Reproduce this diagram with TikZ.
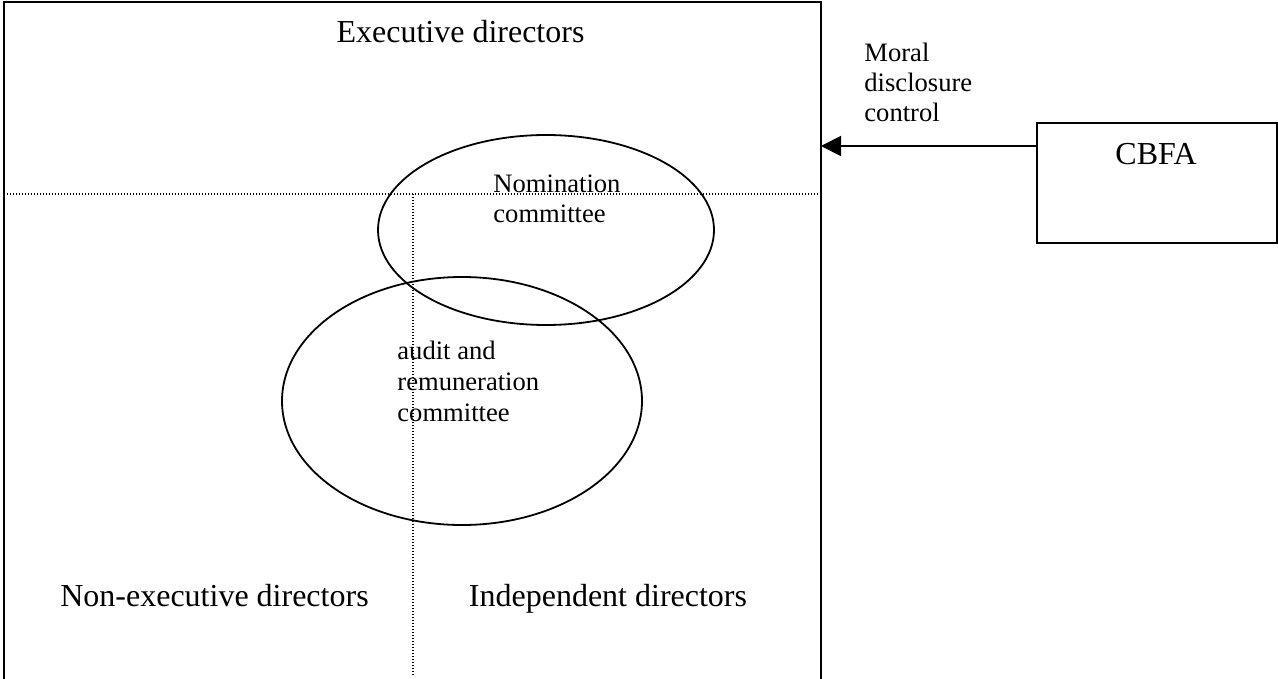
\documentclass[tikz,border=0pt]{standalone}
\usepackage{fontspec}
\setmainfont{Liberation Serif}
\usetikzlibrary{arrows.meta,calc}

\tikzset{
	bigtext/.style={font=\fontsize{16}{18.4}\selectfont, inner sep=0},
	smalltext/.style={font=\fontsize{13.3}{15}\selectfont, inner sep=0, align=left, anchor=north west},
	frame/.style={line width=1pt, color=black},
	ring/.style={line width=0.9pt, color=black},
	dots/.style={line width=0.7pt, dash pattern=on 0.6pt off 0.9pt},
}

\begin{document}
\begin{tikzpicture}[x=0.5pt, y=-0.5pt]
		%%%%% START %%%%%
		\useasboundingbox (0, 0) rectangle (1278, 679);
		
		\coordinate (boardNW) at (4, 2.5);
		\coordinate (boardNE) at (821, 2.5);
		\draw[frame] (4, 679) -- (boardNW) -- (boardNE) -- (821, 679);
		
		\draw[dots] (4, 194) -- (821, 194);
		\draw[dots] (413, 194) -- (413, 675);
		
		\draw[ring] (546, 230) ellipse [x radius=168, y radius=95];
		\draw[ring] (462, 401) ellipse [x radius=180, y radius=124];
		
		\node[bigtext, anchor=base] (execDirs) at (460.5, 43) {Executive directors};
		\node[bigtext, anchor=base] (nonExecDirs) at (214.5, 606) {Non-executive directors};
		\node[bigtext, anchor=base] (indepDirs) at (608, 606) {Independent directors};
		
		\node[smalltext] (nomination) at (493, 174) {Nomination\\committee};
		\node[smalltext, font=\fontsize{13.3}{15.5}\selectfont] (audit) at (397, 341) {audit and\\remuneration\\committee};
		
		\node[frame, draw, minimum width=120pt, minimum height=60pt] (cbfa) at (1157, 183) {};
		\node[bigtext, anchor=base] (cbfaText) at (1156, 165) {CBFA};
		
		\draw[frame, -{Triangle[length=10pt, width=10pt]}] ([yshift=-12pt]cbfa.north west) -- ([yshift=-12pt]cbfa.north west -| boardNE);
		\node[smalltext] (moral) at (864, 43) {Moral\\disclosure\\control};
		
		%%%%% END %%%%%
	\end{tikzpicture}
\end{document}
